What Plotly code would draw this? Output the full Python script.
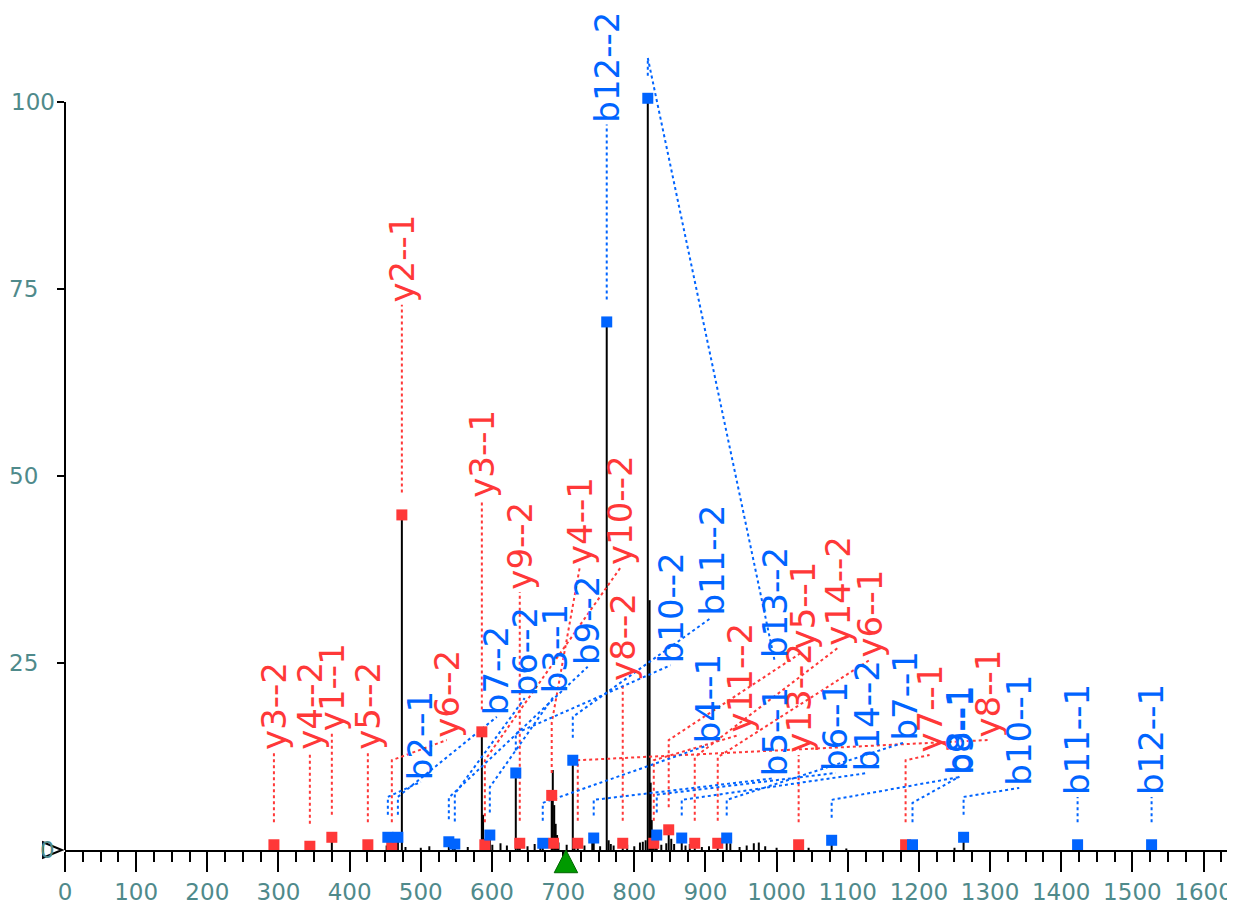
import plotly.graph_objects as go

# ---------------- data ----------------
# y-ion matches (red)
y_labels = ["y3--2", "y4--2", "y1--1", "y5--2", "y6--2", "y2--1", "y3--1", "y10--2", "y9--2",
            "y4--1", "y8--1", "y8--2", "y11--2", "y5--1", "y14--2", "y6--1", "y13--2", "y7--1"]
y_mz = [293.6, 344.1, 375.0, 425.6, 459.3, 473.4, 585.8, 590.0, 639.1,
        684.0, 720.6, 783.8, 827.4, 848.4, 885.0, 917.3, 1031.0, 1181.3]
y_int = [0.7, 0.5, 1.7, 0.7, 0.7, 44.8, 15.8, 0.7, 0.9,
         7.3, 0.9, 0.9, 0.9, 2.7, 0.9, 0.9, 0.7, 0.7]

# b-ion matches (blue)
b_labels = ["b2--1", "b7--2", "b9--2", "b6--2", "b3--1", "b10--2", "b4--1", "b11--2", "b5--1",
            "b12--2", "b13--2", "b6--1", "b14--2", "b7--1", "b9--1", "b8--1", "b10--1", "b11--1", "b12--1"]
b_mz = [453.7, 467.8, 539.4, 547.8, 597.0, 633.5, 671.4, 713.6, 743.0,
        761.3, 819.0, 831.6, 866.7, 929.9, 1077.4, 1191.0, 1262.8, 1423.0, 1527.0]
b_int = [1.7, 1.7, 1.1, 0.8, 2.0, 10.3, 0.9, 12.0, 1.6,
         70.6, 100.5, 2.0, 1.6, 1.6, 1.3, 0.7, 1.7, 0.7, 0.7]

# matched ion without a visible label
extra_y_mz = [686.5]
extra_y_int = [0.9]

# other (unannotated) peaks
other_mz = [340.5, 452.0, 466.0, 478.5, 500.0, 512.0, 545.0, 566.0, 587.5, 589.5,
            600.5, 612.0, 621.0, 636.5, 650.0, 660.0, 668.0, 685.5, 687.5, 689.5,
            691.5, 693.5, 705.0, 716.0, 730.0, 741.0, 752.0, 764.0, 767.0, 771.0,
            790.0, 800.0, 808.0, 812.0, 816.0, 821.5, 823.0, 824.5, 826.0, 830.0,
            838.0, 845.0, 852.0, 856.0, 872.0, 878.0, 895.0, 905.0, 935.0, 948.0,
            958.0, 968.0, 975.0, 984.0, 1000.0, 1045.0, 1098.0, 1250.0]
other_int = [0.4, 0.6, 0.5, 0.4, 0.3, 0.5, 0.6, 0.4, 4.7, 1.5,
             0.7, 0.9, 0.6, 1.0, 0.5, 0.8, 0.6, 10.7, 6.0, 3.5,
             2.0, 1.0, 0.7, 0.8, 0.6, 1.0, 0.5, 1.3, 0.8, 0.6,
             0.7, 0.5, 1.0, 1.1, 1.3, 33.4, 9.0, 4.0, 2.5, 1.2,
             0.7, 0.9, 1.5, 0.8, 0.6, 0.8, 0.4, 0.5, 0.9, 0.4,
             0.6, 0.9, 1.0, 0.5, 0.3, 0.3, 0.2, 0.3]

precursor_mz = 704.0

x_ticks = list(range(0, 1601, 100))
y_ticks = [0, 25, 50, 75, 100]

# ---------------- label layout (data units) ----------------
y_bend = [None, None, None, None, 12.0, None, None, 12.0, None,
          17.0, 12.0, None, 12.0, 14.7, 12.4, 12.4, None, 12.0]
y_lab_mz = [293.6, 344.1, 375.0, 425.6, 536.5, 473.4, 585.8, 781.0, 639.1,
            723.4, 1296.5, 783.8, 948.0, 1036.6, 1085.8, 1130.7, 1031.0, 1215.0]
y_lab_int = [13.1, 13.1, 15.6, 13.1, 14.7, 72.9, 46.8, 37.8, 34.5,
             37.8, 14.7, 22.3, 15.4, 26.5, 27.0, 25.4, 12.7, 12.7]

b_bend = [7.1, 7.1, 7.0, 7.5, 8.4, 15.6, 6.3, 17.8, 6.7,
          None, 105.9, 7.4, 6.7, 6.7, 6.7, 6.3, 7.1, None, None]
b_lab_mz = [500.0, 606.8, 734.6, 646.0, 688.0, 851.0, 903.0, 908.8, 997.0,
            761.3, 997.0, 1083.0, 1128.0, 1180.0, 1260.0, 1257.0, 1341.0, 1423.0, 1527.0]
b_lab_int = [9.1, 17.8, 24.5, 20.3, 20.7, 24.7, 14.0, 31.1, 9.6,
             97.0, 25.4, 10.3, 10.3, 14.4, 9.8, 9.8, 8.3, 7.1, 7.1]

RED = "#ff3838"
BLUE = "#0064ff"
TEAL = "#4f8a8b"
FONT = "DejaVu Sans"
GAP = 3.0

fig = go.Figure()

# ---- peaks (stems) ----
all_mz = y_mz + b_mz + other_mz
all_int = y_int + b_int + other_int
sx, sy = [], []
for m, i in zip(all_mz, all_int):
    sx += [m, m, None]
    sy += [0, i, None]
fig.add_trace(go.Scatter(x=sx, y=sy, mode="lines",
                         line=dict(color="black", width=2), hoverinfo="skip"))


def leaders(mzs, ints, bends, lmz, lint):
    lx, ly = [], []
    for m, i, b, xm, yi in zip(mzs, ints, bends, lmz, lint):
        if b is None:
            lx += [m, xm, None]
            ly += [i + GAP, yi, None]
        else:
            lx += [m, m, xm, None]
            ly += [i + GAP, b, yi, None]
    return lx, ly


for mzs, ints, bends, lmz, lint, col in [
        (y_mz, y_int, y_bend, y_lab_mz, y_lab_int, RED),
        (b_mz, b_int, b_bend, b_lab_mz, b_lab_int, BLUE)]:
    lx, ly = leaders(mzs, ints, bends, lmz, lint)
    fig.add_trace(go.Scatter(x=lx, y=ly, mode="lines",
                             line=dict(color=col, width=2, dash="3px,3px"),
                             hoverinfo="skip"))

# ---- markers ----
fig.add_trace(go.Scatter(x=y_mz + extra_y_mz, y=y_int + extra_y_int, mode="markers",
                         marker=dict(symbol="square", size=11, color=RED),
                         cliponaxis=False, name="y ions"))
fig.add_trace(go.Scatter(x=b_mz, y=b_int, mode="markers",
                         marker=dict(symbol="square", size=11, color=BLUE),
                         cliponaxis=False, name="b ions"))

annotations = []
for lab, xm, yi in zip(y_labels, y_lab_mz, y_lab_int):
    annotations.append(dict(x=xm, y=yi, xref="x", yref="y", text=lab, showarrow=False,
                            textangle=-90, xanchor="center", yanchor="bottom",
                            font=dict(family=FONT, size=34, color=RED)))
for lab, xm, yi in zip(b_labels, b_lab_mz, b_lab_int):
    annotations.append(dict(x=xm, y=yi, xref="x", yref="y", text=lab, showarrow=False,
                            textangle=-90, xanchor="center", yanchor="bottom",
                            font=dict(family=FONT, size=34, color=BLUE)))

# y tick labels
for v in y_ticks:
    annotations.append(dict(x=0, y=v, xref="paper", yref="y", text=str(v), showarrow=False,
                            xanchor="right", yanchor="middle",
                            xshift=-8 if v in (0, 100) else -25,
                            font=dict(family=FONT, size=23, color=TEAL)))

# y axis line (only up to 100), origin marker and precursor marker under the x axis
pw = 16.5
shapes = [
    dict(type="line", xref="paper", yref="y", x0=0, x1=0, y0=0, y1=100,
         line=dict(color="black", width=2)),
    dict(type="path", xref="paper", yref="paper",
         path="M -0.0188,0.0092 L -0.0026,0 L -0.0188,-0.0092 Z",
         fillcolor="rgba(255,255,255,0.6)", line=dict(color="black", width=2), layer="above"),
    dict(type="path", xref="x", yref="paper",
         path=f"M {precursor_mz - pw},-0.027 L {precursor_mz + pw},-0.027 L {precursor_mz},0 Z",
         fillcolor="#009a00", line=dict(color="#006400", width=1), layer="above"),
]

fig.update_layout(
    width=1227, height=897,
    margin=dict(l=57, r=3, t=0, b=55),
    plot_bgcolor="white", paper_bgcolor="white",
    showlegend=False,
    annotations=annotations,
    shapes=shapes,
)
fig.update_xaxes(range=[0, 1640], showline=True, linecolor="black", linewidth=2,
                 ticks="outside", ticklen=20, tickwidth=2, tickcolor="black",
                 tickvals=x_ticks, ticktext=[str(t) for t in x_ticks],
                 showgrid=False, zeroline=False,
                 tickfont=dict(family=FONT, size=23, color=TEAL),
                 minor=dict(dtick=25, tick0=0, ticks="outside", ticklen=10, tickwidth=2,
                            tickcolor="black", showgrid=False))
fig.update_yaxes(range=[0, 112.57], showline=False, showgrid=False, zeroline=False,
                 tickvals=[25, 50, 75, 100], ticks="outside", ticklen=7, tickwidth=2,
                 tickcolor="black", showticklabels=False)

fig.write_html("out.html")
